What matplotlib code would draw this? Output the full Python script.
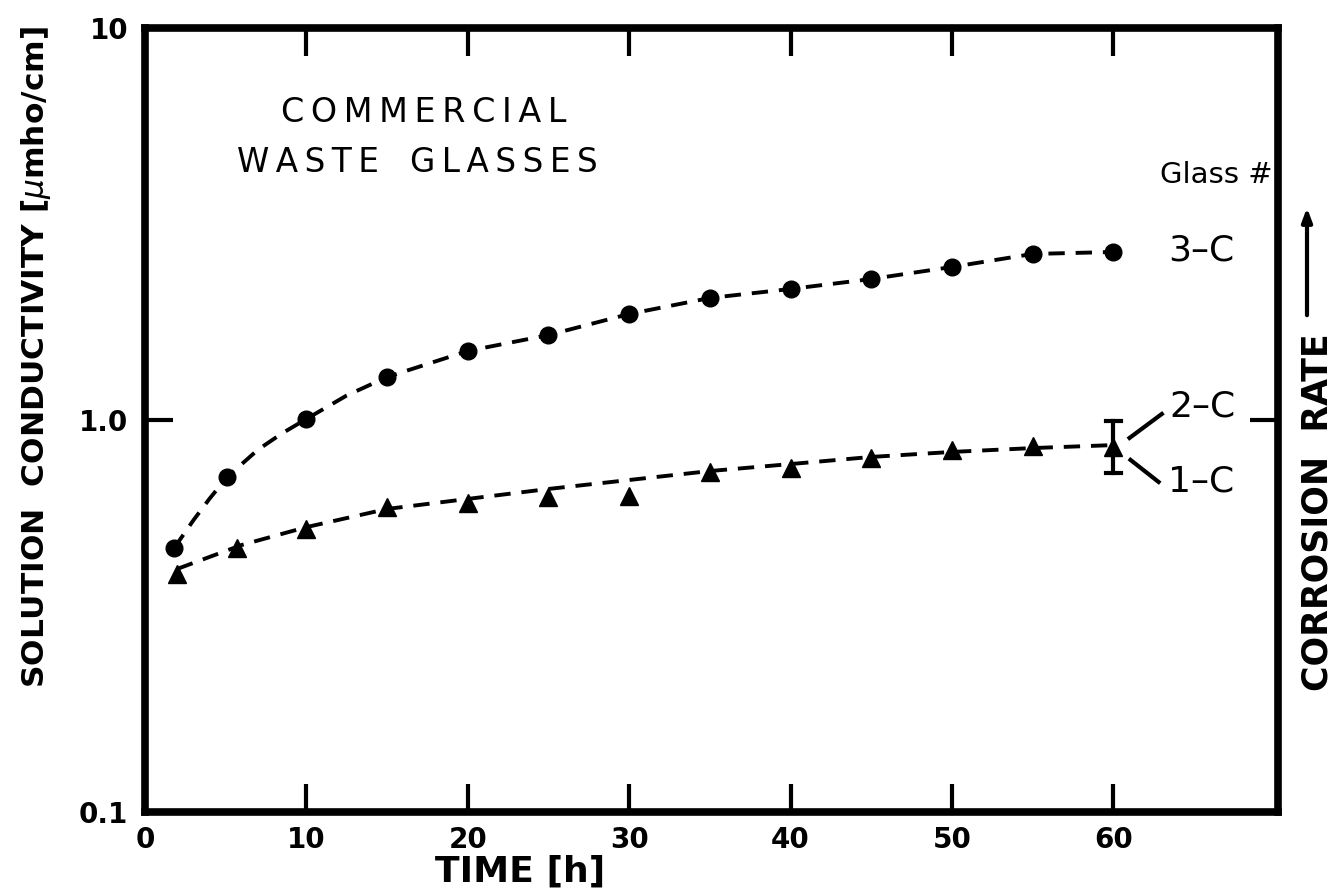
import matplotlib
matplotlib.use("Agg")
import matplotlib.pyplot as plt

# Glass 3-C, measured conductivity
circ_t = [1.8, 5.1, 10, 15, 20, 25, 30, 35, 40, 45, 50, 55, 60]
circ_s = [0.471, 0.716, 1.006, 1.287, 1.50, 1.647, 1.864, 2.048, 2.159, 2.289, 2.457, 2.652, 2.683]
# smooth dashed trend drawn through the 3-C points
circ_fit_t = [1.8, 3.0, 4.0, 5.1, 7.0, 8.5, 10, 12.5, 15, 20, 25, 30, 35, 40, 45, 50, 55, 60]
circ_fit_s = [0.471, 0.555, 0.63, 0.716, 0.84, 0.925, 1.006, 1.155, 1.287, 1.50, 1.647, 1.864,
              2.048, 2.159, 2.289, 2.457, 2.652, 2.683]

# Glasses 1-C / 2-C, measured conductivity
tri_t = [2.0, 5.7, 10, 15, 20, 25, 30, 35, 40, 45, 50, 55, 60]
tri_s = [0.405, 0.471, 0.527, 0.600, 0.614, 0.636, 0.640, 0.737, 0.754, 0.800, 0.839, 0.858, 0.853]
tri_fit_t = [2.0, 6, 10, 15, 20, 25, 30, 35, 40, 45, 50, 55, 60]
tri_fit_s = [0.417, 0.480, 0.533, 0.593, 0.629, 0.667, 0.703, 0.741, 0.772, 0.805, 0.829, 0.848, 0.863]

# spread between 1-C and 2-C at 60 h
bar_t = 60
bar_lo = 0.732
bar_hi = 0.994

x_ticks = [0, 10, 20, 30, 40, 50, 60]
y_ticks = [0.1, 1.0, 10]
y_ticklabels = ["0.1", "1.0", "10"]

THIN = "\u2009"


def spaced(s):
    # wide letter spacing for the lettered captions
    return THIN.join(s)


W, H = 1337, 892
fig = plt.figure(figsize=(W / 100, H / 100), dpi=100)
ax = fig.add_axes([145 / W, 1 - 812 / H, (1278 - 145) / W, (812 - 28) / H])

ax.set_yscale("log")
ax.set_xlim(0, 70.2)
ax.set_ylim(0.1, 10)

dash = dict(color="black", lw=2.8, dashes=(4.2, 2.8), solid_capstyle="butt")
ax.plot(circ_fit_t, circ_fit_s, **dash)
ax.plot(tri_fit_t, tri_fit_s, **dash)
ax.plot(circ_t, circ_s, "o", color="black", ms=12, zorder=3)
ax.plot(tri_t, tri_s, "^", color="black", ms=13, zorder=3)
ax.plot([bar_t, bar_t], [bar_lo, bar_hi], color="black", lw=3)
ax.plot([bar_t - 0.45, bar_t + 0.45], [bar_hi, bar_hi], color="black", lw=3)
ax.plot([bar_t - 0.45, bar_t + 0.45], [bar_lo, bar_lo], color="black", lw=3)

# spines and ticks
for s in ax.spines.values():
    s.set_linewidth(5.5)
ax.minorticks_off()
ax.set_xticks(x_ticks)
ax.set_yticks(y_ticks)
ax.set_yticklabels(y_ticklabels)
ax.tick_params(which="major", direction="in", length=20, width=3,
               top=True, right=True, pad=10)
ax.tick_params(axis="x", labelsize=20)
ax.tick_params(axis="y", labelsize=20, pad=12)
for lab in ax.get_xticklabels() + ax.get_yticklabels():
    lab.set_fontweight("bold")

# series labels
txt = dict(fontsize=26, va="center", ha="left")
ax.text(63.4, 2.70, "3–C", **txt)
ax.text(63.5, 1.08, "2–C", **txt)
ax.text(63.4, 0.695, "1–C", **txt)
ax.plot([61.0, 63.0], [0.900, 1.036], color="black", lw=3)
ax.plot([61.06, 62.8], [0.791, 0.695], color="black", lw=3)
ax.text(66.4, 4.22, "Glass #", fontsize=21, ha="center", va="center")

fig.text(424 / W, 1 - 113 / H, spaced("COMMERCIAL"), fontsize=24, ha="center", va="center")
fig.text(417 / W, 1 - 162 / H, spaced("WASTE") + "   " + spaced("GLASSES"), fontsize=23.5,
         ha="center", va="center")

# axis titles
fig.text(36 / W, 1 - 357 / H, "SOLUTION  CONDUCTIVITY [$\\mu$mho/cm]", rotation=90,
         fontsize=22.5, fontweight="bold", ha="center", va="center")
fig.text(520 / W, 1 - 872 / H, "TIME [h]", fontsize=26, fontweight="bold",
         ha="center", va="center")
fig.text(1318 / W, 1 - 512 / H, "CORROSION  RATE", rotation=90, fontsize=25,
         fontweight="bold", ha="center", va="center")
fig.add_artist(matplotlib.patches.FancyArrowPatch(
    (1307 / W, 1 - 318 / H), (1307 / W, 1 - 205 / H), transform=fig.transFigure,
    arrowstyle="-|>,head_length=8,head_width=3", lw=3, color="black"))

fig.savefig("out.png", dpi=100)
